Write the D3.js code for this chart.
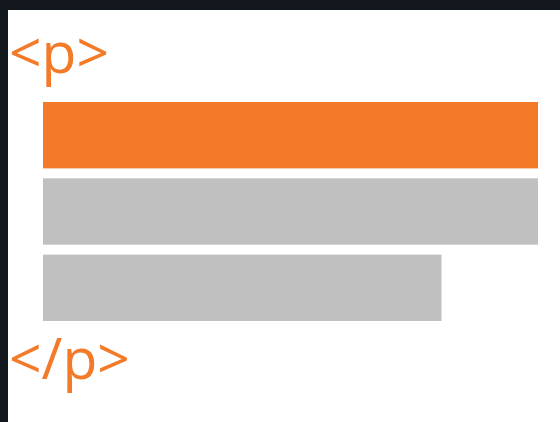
<!DOCTYPE html>
<html><head><meta charset="utf-8">
<script src="https://cdn.jsdelivr.net/npm/d3@7"></script>
<style>html,body{margin:0;padding:0;background:#13171e;}svg{display:block;}</style>
</head><body>
<script>
const categories = ["line1", "line2", "line3"];
const values = [1, 1, 0.805];
const highlight = ["line1"];
const tags = ["<p>", "</p>"];

const W = 560, H = 422;
const svg = d3.select("body").append("svg").attr("width", W).attr("height", H);
svg.append("rect").attr("x", 8).attr("y", 10).attr("width", W - 8).attr("height", H - 10).attr("fill", "#ffffff");

const x = d3.scaleLinear().domain([0, 1]).range([43, 538]);
const y = d3.scaleBand().domain(categories).range([102, 321]).paddingInner(0.13);

svg.selectAll("rect.bar").data(categories).join("rect")
  .attr("class", "bar")
  .attr("x", x(0))
  .attr("y", d => y(d))
  .attr("width", (d, i) => x(values[i]) - x(0))
  .attr("height", y.bandwidth())
  .attr("fill", d => highlight.includes(d) ? "#f37a28" : "#c0c0c0");

svg.append("text").attr("x", 9).attr("y", 73).text(tags[0])
  .attr("font-family", "Open Sans").attr("font-size", 57).attr("fill", "#f37a28");
svg.append("text").attr("x", 9).attr("y", 379).text(tags[1])
  .attr("font-family", "Open Sans").attr("font-size", 57).attr("fill", "#f37a28");
</script>
</body></html>
